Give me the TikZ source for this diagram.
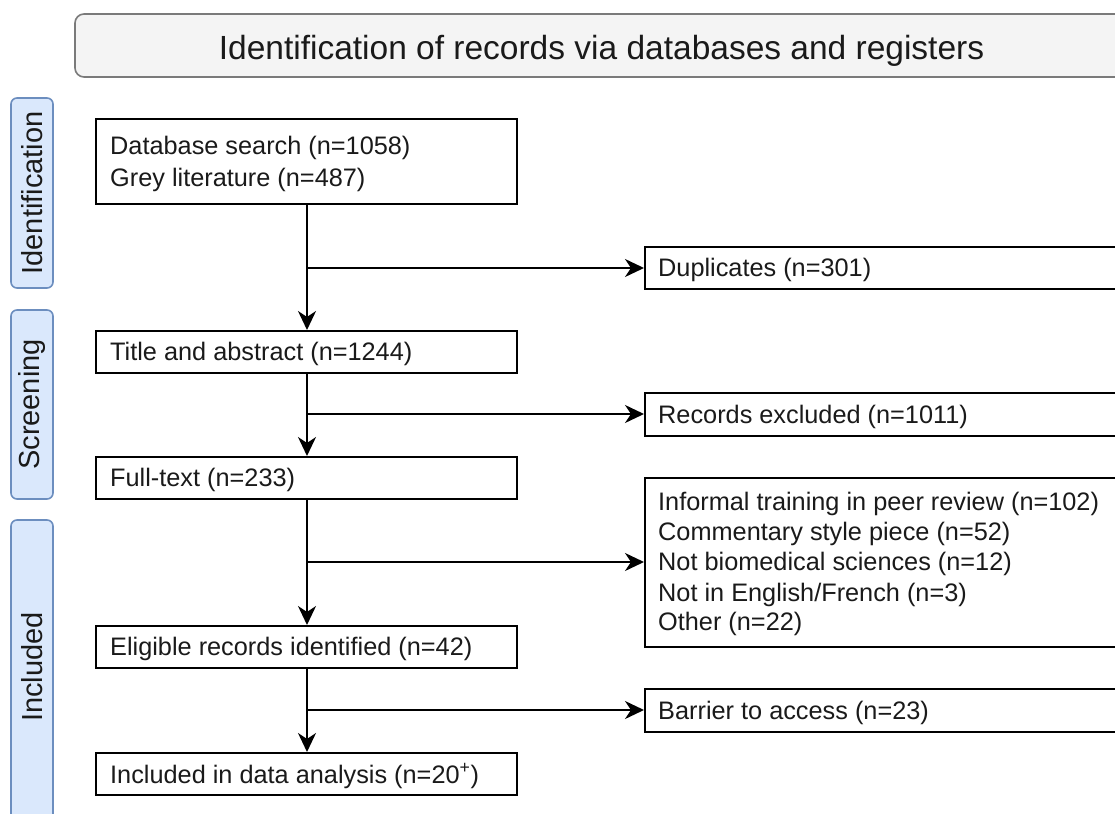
\documentclass[tikz,border=0pt]{standalone}
\usepackage{fontspec}
\setmainfont{Liberation Sans}
\usetikzlibrary{arrows.meta}
\definecolor{txt}{HTML}{1A1A1A}
\definecolor{sidefill}{HTML}{DAE8FC}
\definecolor{sidedraw}{HTML}{6C8EBF}
\definecolor{titlefill}{HTML}{F4F4F4}
\definecolor{titledraw}{HTML}{7A7A7A}
\tikzset{
  flowbox/.style={draw=black, line width=2pt, fill=white},
  sidebox/.style={draw=sidedraw, line width=1.6pt, fill=sidefill, rounded corners=6pt},
  titlebox/.style={draw=titledraw, line width=1.6pt, fill=titlefill, rounded corners=9pt},
  boxtext/.style={anchor=west, inner sep=0pt, yshift=-2pt, text=txt, font=\fontsize{25.3}{30}\selectfont},
  sidetext/.style={rotate=90, inner sep=0pt, text=txt, font=\fontsize{29}{34}\selectfont},
  flow/.style={draw=black, line width=2pt},
  arr/.style={flow, -{Stealth[length=19pt, width=18pt, inset=6pt]}},
}
\begin{document}
\begin{tikzpicture}[x=1pt, y=-1pt]
\useasboundingbox (0,0) rectangle (1115,813);
% title
\draw[titlebox] (75,14) rectangle (1128,77);
\node[inner sep=0pt, text=txt, font=\fontsize{33.5}{38}\selectfont] (title) at (601.5,51) {Identification of records via databases and registers};
% sidebars
\draw[sidebox] (11,98) rectangle (53,288);
\node[sidetext] (sideI) at (32,193) {Identification};
\draw[sidebox] (11,310) rectangle (53,499);
\node[sidetext] (sideS) at (32,404.5) {Screening};
\draw[sidebox] (11,520) rectangle (53,830);
\node[sidetext] (sideInc) at (32,667) {Included};
% main boxes
\node[flowbox, minimum width=421pt, minimum height=85pt, inner sep=0pt] (b1) at (306.5,161.5) {};
\node[boxtext] at (110,146) {Database search (n=1058)};
\node[boxtext] at (110,178) {Grey literature (n=487)};
\node[flowbox, minimum width=421pt, minimum height=42pt, inner sep=0pt] (b2) at (306.5,352) {};
\node[boxtext] at (110,352) {Title and abstract (n=1244)};
\node[flowbox, minimum width=421pt, minimum height=42pt, inner sep=0pt] (b3) at (306.5,478) {};
\node[boxtext] at (110,478) {Full-text (n=233)};
\node[flowbox, minimum width=421pt, minimum height=42pt, inner sep=0pt] (b4) at (306.5,647) {};
\node[boxtext] at (110,647) {Eligible records identified (n=42)};
\node[flowbox, minimum width=421pt, minimum height=42pt, inner sep=0pt] (b5) at (306.5,774) {};
\node[boxtext] at (110,774) {Included in data analysis (n=20\textsuperscript{+})};
% right boxes
\node[flowbox, minimum width=500pt, minimum height=42pt, inner sep=0pt, anchor=west] (r1) at (644,267.5) {};
\node[boxtext] at (658,267.5) {Duplicates (n=301)};
\node[flowbox, minimum width=500pt, minimum height=43pt, inner sep=0pt, anchor=west] (r2) at (644,414.5) {};
\node[boxtext] at (658,414.5) {Records excluded (n=1011)};
\node[flowbox, minimum width=500pt, minimum height=169pt, inner sep=0pt, anchor=west] (r3) at (644,562.5) {};
\node[boxtext] at (658,502) {Informal training in peer review (n=102)};
\node[boxtext] at (658,532) {Commentary style piece (n=52)};
\node[boxtext] at (658,562) {Not biomedical sciences (n=12)};
\node[boxtext] at (658,593) {Not in English/French (n=3)};
\node[boxtext] at (658,622) {Other (n=22)};
\node[flowbox, minimum width=500pt, minimum height=43pt, inner sep=0pt, anchor=west] (r4) at (644,710.5) {};
\node[boxtext] at (658,710.5) {Barrier to access (n=23)};
% connectors
\coordinate (j1) at (307,268);
\coordinate (j2) at (307,414);
\coordinate (j3) at (307,562);
\coordinate (j4) at (307,710);
\draw[arr] (b1.south -| j1) -- (b2.north -| j1);
\draw[arr] (b2.south -| j2) -- (b3.north -| j2);
\draw[arr] (b3.south -| j3) -- (b4.north -| j3);
\draw[arr] (b4.south -| j4) -- (b5.north -| j4);
\draw[arr] (j1) -- (r1.west |- j1);
\draw[arr] (j2) -- (r2.west |- j2);
\draw[arr] (j3) -- (r3.west |- j3);
\draw[arr] (j4) -- (r4.west |- j4);
\end{tikzpicture}
\end{document}
